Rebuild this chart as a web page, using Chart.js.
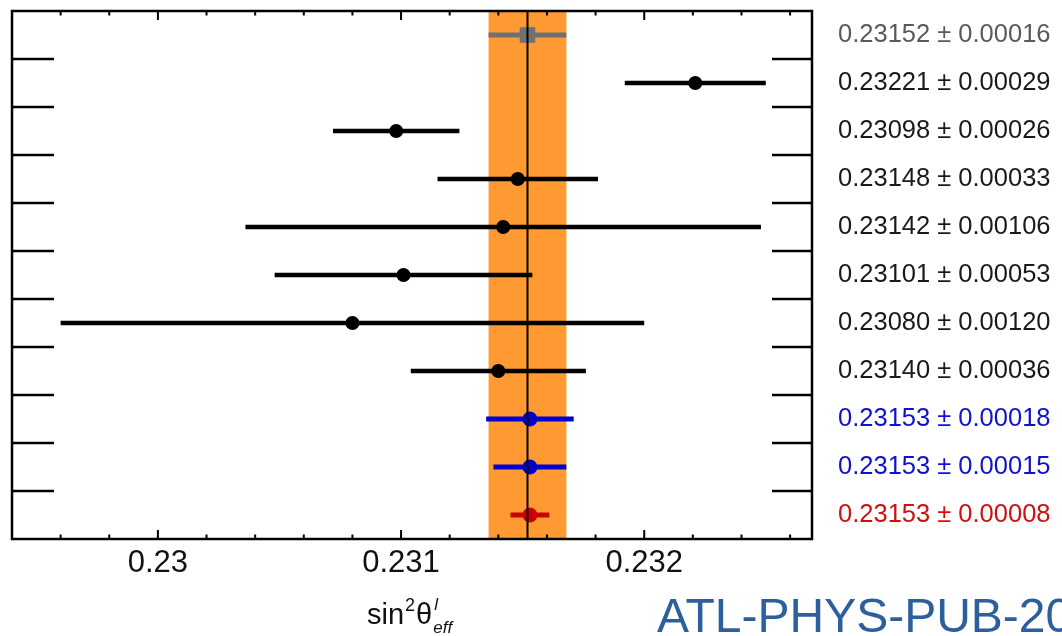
<!DOCTYPE html>
<html>
<head>
<meta charset="utf-8">
<title>sin2theta eff summary</title>
<script src="https://cdn.jsdelivr.net/npm/chart.js@4.4.1/dist/chart.umd.min.js"></script>
<style>
  html, body { margin: 0; padding: 0; background: #fff; }
  #wrap { width: 1062px; height: 636px; position: relative; }
</style>
</head>
<body>
<div id="wrap"><canvas id="c"></canvas></div>
<script>
// one row per measurement, top to bottom
var VALUES = [0.23152, 0.23221, 0.23098, 0.23148, 0.23142, 0.23101, 0.23080, 0.23140, 0.23153, 0.23153, 0.23153];
var ERRORS = [0.00016, 0.00029, 0.00026, 0.00033, 0.00106, 0.00053, 0.00120, 0.00036, 0.00018, 0.00015, 0.00008];
var MARK_COLORS = ['#707070', '#000000', '#000000', '#000000', '#000000', '#000000', '#000000', '#000000', '#0000cc', '#0000cc', '#cc0000'];
var TEXT_COLORS = ['#5a5a5a', '#1a1a1a', '#1a1a1a', '#1a1a1a', '#1a1a1a', '#1a1a1a', '#1a1a1a', '#1a1a1a', '#1010d0', '#1010d0', '#d01010'];
var MARKERS = ['rect', 'circle', 'circle', 'circle', 'circle', 'circle', 'circle', 'circle', 'circle', 'circle', 'circle'];

// shaded reference band: central value and half width
var BAND_CENTER = 0.23152;
var BAND_HALF = 0.00016;

var X_RANGE = [0.2294, 0.23269];
var X_MAJOR = [0.230, 0.231, 0.232];
var X_MAJOR_LABELS = ['0.23', '0.231', '0.232'];
var X_MINOR = [0.2296, 0.2298, 0.2302, 0.2304, 0.2306, 0.2308, 0.2312, 0.2314, 0.2316, 0.2318, 0.2322, 0.2324, 0.2326];

var FONT = '"Liberation Sans", Arial, Helvetica, sans-serif';

function fmt(v) { return v.toFixed(5); }

var datasets = [];
VALUES.forEach(function (v, i) {
    var thick = (i === 0 || i >= 8) ? 5 : 4.5;
    datasets.push({
        data: [{ x: v - ERRORS[i], y: i }, { x: v + ERRORS[i], y: i }],
        showLine: true,
        borderColor: MARK_COLORS[i],
        borderWidth: thick,
        pointRadius: 0,
        order: 2
    });
});
datasets.push({
    data: VALUES.map(function (v, i) { return { x: v, y: i }; }),
    pointStyle: MARKERS,
    pointRadius: VALUES.map(function (v, i) { return i === 0 ? 11 : (i >= 8 ? 7.5 : 7); }),
    pointBackgroundColor: MARK_COLORS,
    pointBorderColor: MARK_COLORS,
    pointBorderWidth: 0,
    order: 1
});

// orange band behind everything, central line above the markers
var bandPlugin = {
    id: 'band',
    beforeDatasetsDraw: function (chart) {
        var ctx = chart.ctx, a = chart.chartArea, xs = chart.scales.x;
        var x0 = xs.getPixelForValue(BAND_CENTER - BAND_HALF);
        var x1 = xs.getPixelForValue(BAND_CENTER + BAND_HALF);
        ctx.save();
        ctx.fillStyle = '#ff9a33';
        ctx.fillRect(x0, a.top, x1 - x0, a.bottom - a.top);
        ctx.restore();
    },
    afterDatasetsDraw: function (chart) {
        var ctx = chart.ctx, a = chart.chartArea, xs = chart.scales.x;
        var xc = xs.getPixelForValue(BAND_CENTER);
        ctx.save();
        ctx.strokeStyle = '#000';
        ctx.lineWidth = 2;
        ctx.beginPath();
        ctx.moveTo(xc, a.top);
        ctx.lineTo(xc, a.bottom);
        ctx.stroke();
        ctx.restore();
    }
};

// frame with inward ticks, tick labels, axis title and value column
var framePlugin = {
    id: 'frame',
    afterDraw: function (chart) {
        var ctx = chart.ctx, a = chart.chartArea;
        var xs = chart.scales.x, ys = chart.scales.y;
        ctx.save();
        ctx.strokeStyle = '#000';
        ctx.lineWidth = 2.5;
        ctx.strokeRect(a.left, a.top, a.right - a.left, a.bottom - a.top);

        // row separators as ticks on both sides
        ctx.beginPath();
        for (var k = 0; k < VALUES.length - 1; k++) {
            var y = ys.getPixelForValue(k + 0.5);
            ctx.moveTo(a.left, y); ctx.lineTo(a.left + 42, y);
            ctx.moveTo(a.right - 40, y); ctx.lineTo(a.right, y);
        }
        ctx.stroke();

        ctx.lineWidth = 2;
        ctx.beginPath();
        X_MAJOR.forEach(function (v) {
            var x = xs.getPixelForValue(v);
            ctx.moveTo(x, a.top); ctx.lineTo(x, a.top + 9);
            ctx.moveTo(x, a.bottom); ctx.lineTo(x, a.bottom - 9);
        });
        X_MINOR.forEach(function (v) {
            var x = xs.getPixelForValue(v);
            ctx.moveTo(x, a.top); ctx.lineTo(x, a.top + 4.5);
            ctx.moveTo(x, a.bottom); ctx.lineTo(x, a.bottom - 4.5);
        });
        ctx.stroke();

        ctx.fillStyle = '#111';
        ctx.font = '31px ' + FONT;
        ctx.textAlign = 'center';
        ctx.textBaseline = 'alphabetic';
        X_MAJOR.forEach(function (v, i) {
            ctx.fillText(X_MAJOR_LABELS[i], xs.getPixelForValue(v), a.bottom + 33);
        });

        // sin^2 theta^l_eff
        ctx.textAlign = 'left';
        var bx = 367, by = 624;
        ctx.font = '29px ' + FONT;
        ctx.fillText('sin', bx, by);
        bx += ctx.measureText('sin').width + 1;
        ctx.font = '18px ' + FONT;
        ctx.fillText('2', bx, by - 13);
        bx += ctx.measureText('2').width + 1;
        ctx.font = '29px ' + FONT;
        ctx.fillText('\u03b8', bx, by);
        bx += ctx.measureText('\u03b8').width + 1;
        ctx.font = 'italic 17px ' + FONT;
        ctx.fillText('l', bx + 1, by - 14);
        ctx.fillText('eff', bx, by + 9);

        // value column on the right
        ctx.font = '25.5px ' + FONT;
        VALUES.forEach(function (v, i) {
            ctx.fillStyle = TEXT_COLORS[i];
            ctx.fillText(fmt(v) + ' \u00b1 ' + fmt(ERRORS[i]), 838, ys.getPixelForValue(i) + 7);
        });

        // note reference, runs off the right edge
        ctx.fillStyle = '#2c5f9b';
        ctx.font = '48px ' + FONT;
        ctx.fillText('ATL-PHYS-PUB-20', 657, 632);
        ctx.restore();
    }
};

new Chart(document.getElementById('c').getContext('2d'), {
    type: 'scatter',
    data: { datasets: datasets },
    options: {
        responsive: true,
        maintainAspectRatio: false,
        animation: false,
        events: [],
        layout: { padding: { left: 12, top: 6, right: 250, bottom: 97 } },
        plugins: { legend: { display: false }, tooltip: { enabled: false } },
        elements: { line: { borderCapStyle: 'butt' } },
        scales: {
            x: { type: 'linear', min: X_RANGE[0], max: X_RANGE[1], display: false },
            y: { type: 'linear', min: -0.5, max: VALUES.length - 0.5, reverse: true, display: false }
        }
    },
    plugins: [bandPlugin, framePlugin]
});
</script>
</body>
</html>
